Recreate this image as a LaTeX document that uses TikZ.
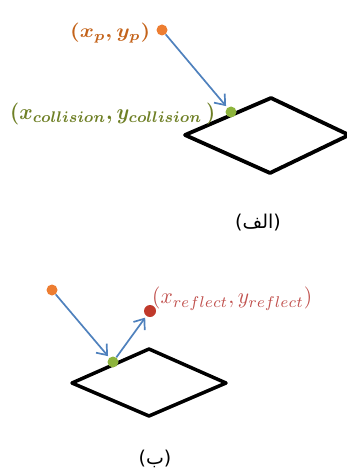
\documentclass[tikz,border=0pt]{standalone}
\usepackage{fontspec}
\usepackage{graphicx}
\usetikzlibrary{arrows.meta}
\TeXXeTstate=1
\newfontfamily\arabicfont[Script=Arabic]{DejaVu Sans}
\newfontfamily\dvsans{DejaVu Sans}
\definecolor{dotorange}{HTML}{ED7D31}
\definecolor{dotgreen}{HTML}{8DB43C}
\definecolor{dotred}{HTML}{C0392B}
\definecolor{arrblue}{HTML}{4F81BD}
\definecolor{labbrown}{HTML}{C4631A}
\definecolor{labolive}{HTML}{6E7F25}
\definecolor{labred}{HTML}{C0504D}
\newcommand\sublab[1]{\hbox{\fontsize{7.5}{8}\selectfont$#1$}}
\tikzset{
  dot/.style={circle, inner sep=0pt, minimum size=11pt},
  arr/.style={draw=arrblue, line width=1.7pt, -{Straight Barb[length=9pt,width=14pt,line width=1.7pt]}, shorten >=2pt},
  rhomb/.style={draw=black, line width=3.8pt, line join=round},
  lab/.style={inner sep=0pt, anchor=north west},
  captxt/.style={inner sep=0pt}
}
\begin{document}
\begin{tikzpicture}[x=1pt,y=-1pt]
\useasboundingbox (0,0) rectangle (347,473);
\clip (0,0) rectangle (347,473);
% ---------- part (a) ----------
\coordinate (aL) at (185,135);
\coordinate (aT) at (271,98);
\coordinate (aR) at (349,135);
\coordinate (aB) at (270,173);
\draw[rhomb] (aL) -- (aT) -- (aR) -- (aB) -- cycle;
\node[dot, fill=dotorange] (aP) at (162,30) {};
\node[dot, fill=dotgreen] (aC) at (231,112) {};
\draw[arr] (aP) -- (aC);
\node[lab, text=labbrown] (aPl) at (70,23)
  {\resizebox*{80pt}{20pt}{\fontsize{10}{12}\selectfont\boldmath$(x_{\sublab{p}},y_{\sublab{p}})$}};
\node[lab, text=labolive] (aCl) at (10,103)
  {\resizebox*{205pt}{22pt}{\fontsize{10}{12}\selectfont\boldmath$(x_{\sublab{collision}},y_{\sublab{collision}}\,)$}};
\node[captxt] (capa) at (258,223)
  {\fontsize{19}{22}\selectfont\dvsans(\arabicfont\beginR الف\endR\dvsans)};
% ---------- part (b) ----------
\coordinate (bL) at (72,383);
\coordinate (bT) at (149,349);
\coordinate (bR) at (226,383);
\coordinate (bB) at (149,416);
\draw[rhomb, line width=3.5pt] (bL) -- (bT) -- (bR) -- (bB) -- cycle;
\node[dot, fill=dotorange] (bP) at (52,290) {};
\node[dot, fill=dotgreen] (bC) at (113,362) {};
\node[dot, fill=dotred, minimum size=12pt] (bR1) at (150,311) {};
\draw[arr] (bP) -- (bC);
\draw[arr] (bC) -- (bR1);
\node[lab, text=labred] (bRl) at (152,287)
  {\resizebox*{160pt}{23pt}{\fontsize{10}{12}\selectfont$(x_{\sublab{reflect}},y_{\sublab{reflect}})$}};
\node[captxt] (capb) at (155,459)
  {\fontsize{19}{22}\selectfont\dvsans(\arabicfont\beginR ب\endR\dvsans)};
\end{tikzpicture}
\end{document}
